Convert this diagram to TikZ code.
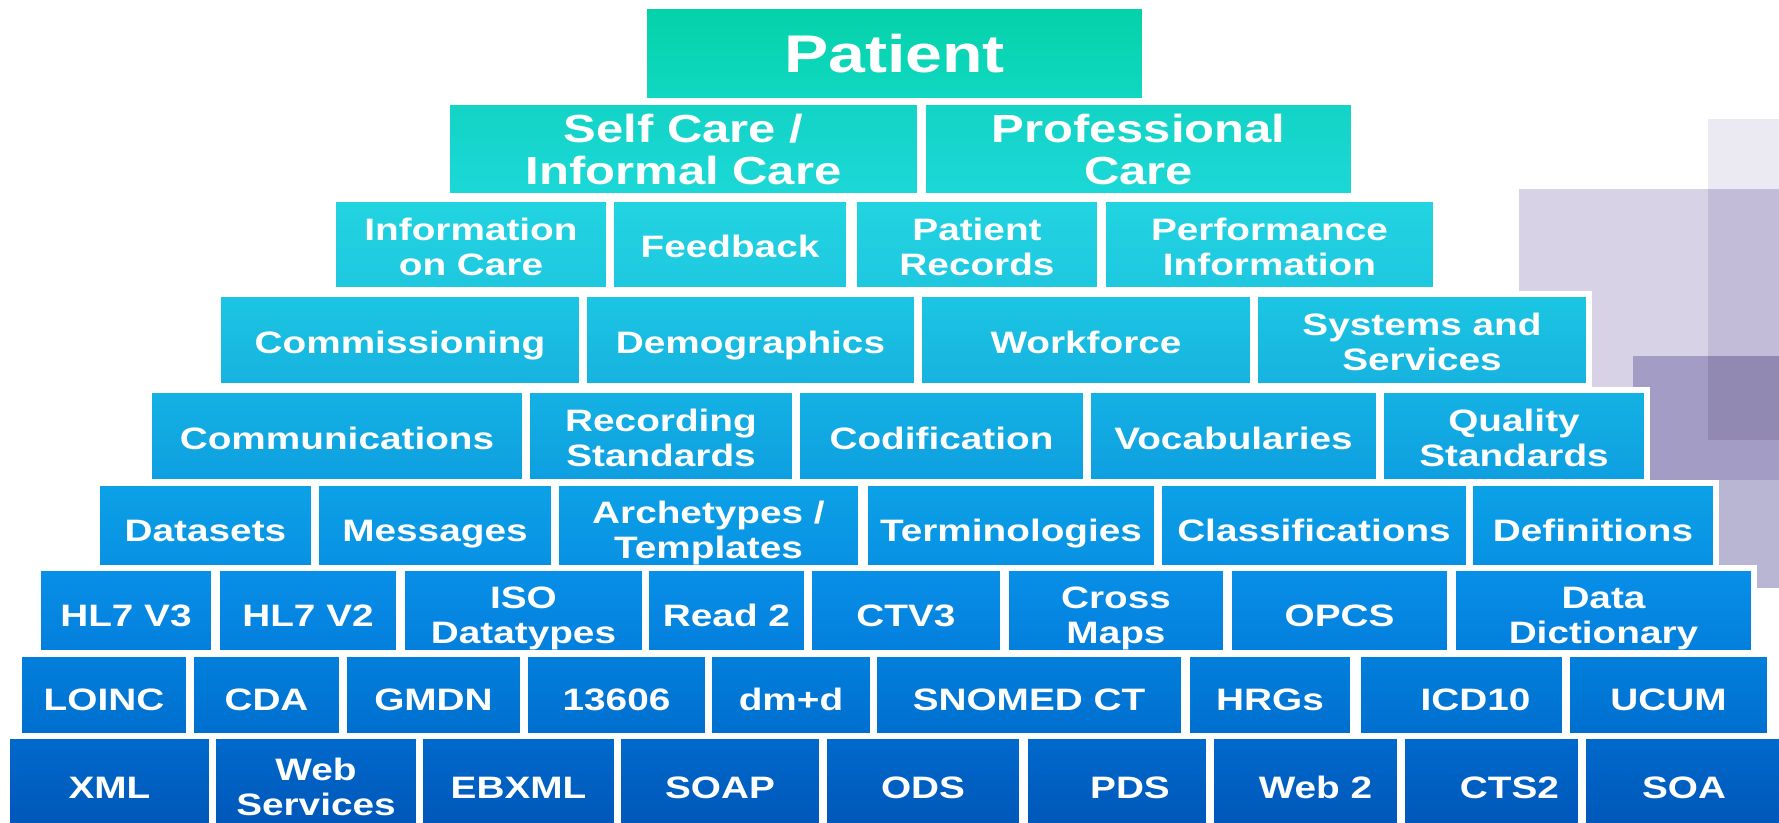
\documentclass[tikz,border=0pt]{standalone}
\usepackage{fontspec}
\setmainfont{Liberation Sans}[FakeStretch=1.25]
\usetikzlibrary{positioning}

% row colours, top and bottom of each band
\definecolor{rowAtop}{HTML}{04D2A8}\definecolor{rowAbot}{HTML}{10D8C2}
\definecolor{rowBtop}{HTML}{12D4C4}\definecolor{rowBbot}{HTML}{1CD8D8}
\definecolor{rowCtop}{HTML}{22D4E0}\definecolor{rowCbot}{HTML}{1EC8E0}
\definecolor{rowDtop}{HTML}{1CC6E2}\definecolor{rowDbot}{HTML}{16B2E0}
\definecolor{rowEtop}{HTML}{14B2E4}\definecolor{rowEbot}{HTML}{0E9EE0}
\definecolor{rowFtop}{HTML}{0CA2E6}\definecolor{rowFbot}{HTML}{0890E4}
\definecolor{rowGtop}{HTML}{0890E8}\definecolor{rowGbot}{HTML}{037EDC}
\definecolor{rowHtop}{HTML}{0280DC}\definecolor{rowHbot}{HTML}{006ECE}
\definecolor{rowItop}{HTML}{006ACC}\definecolor{rowIbot}{HTML}{0056B8}
% purple squares on the right
\definecolor{lilacA}{HTML}{EBE9F2}
\definecolor{lilacB}{HTML}{D8D2E6}
\definecolor{lilacC}{HTML}{C2BCD8}
\definecolor{lilacD}{HTML}{B9B6D4}
\definecolor{lilacE}{HTML}{A39CC4}
\definecolor{lilacF}{HTML}{9189B2}

% fixed height of the first line and depth of the last line
\def\brickh{1.1em}
\newcommand{\brickstrut}{\rule{0pt}{\brickh}}
\newcommand{\brickend}{\rule[-0.25em]{0pt}{0.25em}}

\tikzset{
  brick/.style={draw=white, line width=3pt, inner sep=0pt, text=white, align=center,
                font=\bfseries\fontsize{15.5}{17.5}\selectfont},
  bigbrick/.style={brick, font=\bfseries\fontsize{19.6}{21}\selectfont},
  topbrick/.style={brick, font=\bfseries\fontsize{26.5}{30}\selectfont}
}

\begin{document}
\begin{tikzpicture}[x=0.5pt, y=-0.5pt]
  \useasboundingbox (0,0) rectangle (1779,823);

  % Background squares
  \fill[lilacA] (1708,119) rectangle (1779,189);
  \fill[lilacB] (1519,189) rectangle (1779,588);
  \fill[lilacC] (1708,189) rectangle (1779,356);
  \fill[lilacD] (1633,356) rectangle (1779,588);
  \fill[lilacE] (1633,356) rectangle (1779,480);
  \fill[lilacF] (1708,356) rectangle (1779,440);

  % Top
  \node[topbrick, top color=rowAtop, bottom color=rowAbot,
        minimum width={(1142-647+6)*0.5pt}, minimum height={(98-9+6)*0.5pt}]
        (patient) at ({(647+1142)/2},{(9+98)/2}) {Patient};

  % Care
  \def\ya{105}\def\yb{193}\def\brickh{0.966em}
  \foreach \nm/\xa/\xb/\txt in {selfcare/450/917/{Self Care /\\Informal Care},
                                profcare/926/1351/{Professional\\Care}}
    \node[bigbrick, top color=rowBtop, bottom color=rowBbot,
          minimum width={(\xb-\xa+6)*0.5pt}, minimum height={(\yb-\ya+6)*0.5pt}]
          (\nm) at ({(\xa+\xb)/2},{(\ya+\yb)/2}) {\brickstrut\txt\brickend};

  % Information
  \def\ya{202}\def\yb{287}\def\brickh{1.1em}
  \foreach \nm/\xa/\xb/\txt in {infocare/336/606/{Information\\on Care},
                                feedback/614/846/{Feedback},
                                records/857/1097/{Patient\\Records},
                                perform/1106/1433/{Performance\\Information}}
    \node[brick, top color=rowCtop, bottom color=rowCbot,
          minimum width={(\xb-\xa+6)*0.5pt}, minimum height={(\yb-\ya+6)*0.5pt}]
          (\nm) at ({(\xa+\xb)/2},{(\ya+\yb)/2}) {\brickstrut\txt\brickend};

  % Management
  \def\ya{297}\def\yb{383}
  \foreach \nm/\xa/\xb/\txt in {commiss/221/579/{Commissioning},
                                demogr/587/914/{Demographics},
                                workforce/922/1250/{Workforce},
                                systems/1258/1586/{Systems and\\Services}}
    \node[brick, top color=rowDtop, bottom color=rowDbot,
          minimum width={(\xb-\xa+6)*0.5pt}, minimum height={(\yb-\ya+6)*0.5pt}]
          (\nm) at ({(\xa+\xb)/2},{(\ya+\yb)/2}) {\brickstrut\txt\brickend};

  % Standards
  \def\ya{393}\def\yb{479}
  \foreach \nm/\xa/\xb/\txt in {comms/152/522/{Communications},
                                recstd/530/792/{Recording\\Standards},
                                codif/800/1083/{Codification},
                                vocab/1091/1376/{Vocabularies},
                                qualstd/1384/1644/{Quality\\Standards}}
    \node[brick, top color=rowEtop, bottom color=rowEbot,
          minimum width={(\xb-\xa+6)*0.5pt}, minimum height={(\yb-\ya+6)*0.5pt}]
          (\nm) at ({(\xa+\xb)/2},{(\ya+\yb)/2}) {\brickstrut\txt\brickend};

  % Structures
  \def\ya{486}\def\yb{565}\def\brickh{1.27em}
  \foreach \nm/\xa/\xb/\txt in {datasets/100/311/{Datasets},
                                messages/319/551/{Messages},
                                archet/559/858/{Archetypes /\\Templates},
                                termin/868/1154/{Terminologies},
                                classif/1162/1466/{Classifications},
                                defin/1473/1713/{Definitions}}
    \node[brick, top color=rowFtop, bottom color=rowFbot,
          minimum width={(\xb-\xa+6)*0.5pt}, minimum height={(\yb-\ya+6)*0.5pt}]
          (\nm) at ({(\xa+\xb)/2},{(\ya+\yb)/2}) {\brickstrut\txt\brickend};

  % Products, first row
  \def\ya{571}\def\yb{650}
  \foreach \nm/\xa/\xb/\txt in {hlsevthree/41/211/{HL7 V3},
                                hlsevtwo/220/396/{HL7 V2},
                                isodt/405/642/{ISO\\Datatypes},
                                readtwo/649/804/{Read 2},
                                ctvthree/812/1000/{CTV3},
                                crossmaps/1009/1223/{Cross\\Maps},
                                opcs/1232/1447/{OPCS},
                                datadict/1456/1751/{Data\\Dictionary}}
    \node[brick, top color=rowGtop, bottom color=rowGbot,
          minimum width={(\xb-\xa+6)*0.5pt}, minimum height={(\yb-\ya+6)*0.5pt}]
          (\nm) at ({(\xa+\xb)/2},{(\ya+\yb)/2}) {\brickstrut\txt\brickend};

  % Products, second row
  \def\ya{657}\def\yb{733}
  \foreach \nm/\xa/\xb/\txt in {loinc/22/186/{LOINC},
                                cda/194/339/{CDA},
                                gmdn/347/520/{GMDN},
                                isonum/528/705/{13606},
                                dmd/712/870/{dm+d},
                                snomed/877/1181/{SNOMED CT},
                                hrgs/1190/1350/{HRGs},
                                icdten/1361/1562/{\hspace*{14pt}ICD10},
                                ucum/1570/1767/{UCUM}}
    \node[brick, top color=rowHtop, bottom color=rowHbot,
          minimum width={(\xb-\xa+6)*0.5pt}, minimum height={(\yb-\ya+6)*0.5pt}]
          (\nm) at ({(\xa+\xb)/2},{(\ya+\yb)/2}) {\brickstrut\txt\brickend};

  % Technology
  \def\ya{739}\def\yb{826}
  \foreach \nm/\xa/\xb/\txt in {xml/10/209/{XML},
                                websvc/216/416/{Web\\Services},
                                ebxml/423/614/{EBXML},
                                soap/621/819/{SOAP},
                                ods/827/1019/{ODS},
                                pds/1028/1206/{\hspace*{13pt}PDS},
                                webtwo/1214/1397/{\hspace*{10pt}Web 2},
                                ctstwo/1405/1578/{\hspace*{18pt}CTS2},
                                soa/1586/1782/{SOA}}
    \node[brick, top color=rowItop, bottom color=rowIbot,
          minimum width={(\xb-\xa+6)*0.5pt}, minimum height={(\yb-\ya+6)*0.5pt}]
          (\nm) at ({(\xa+\xb)/2},{(\ya+\yb)/2}) {\brickstrut\txt\brickend};
\end{tikzpicture}
\end{document}
